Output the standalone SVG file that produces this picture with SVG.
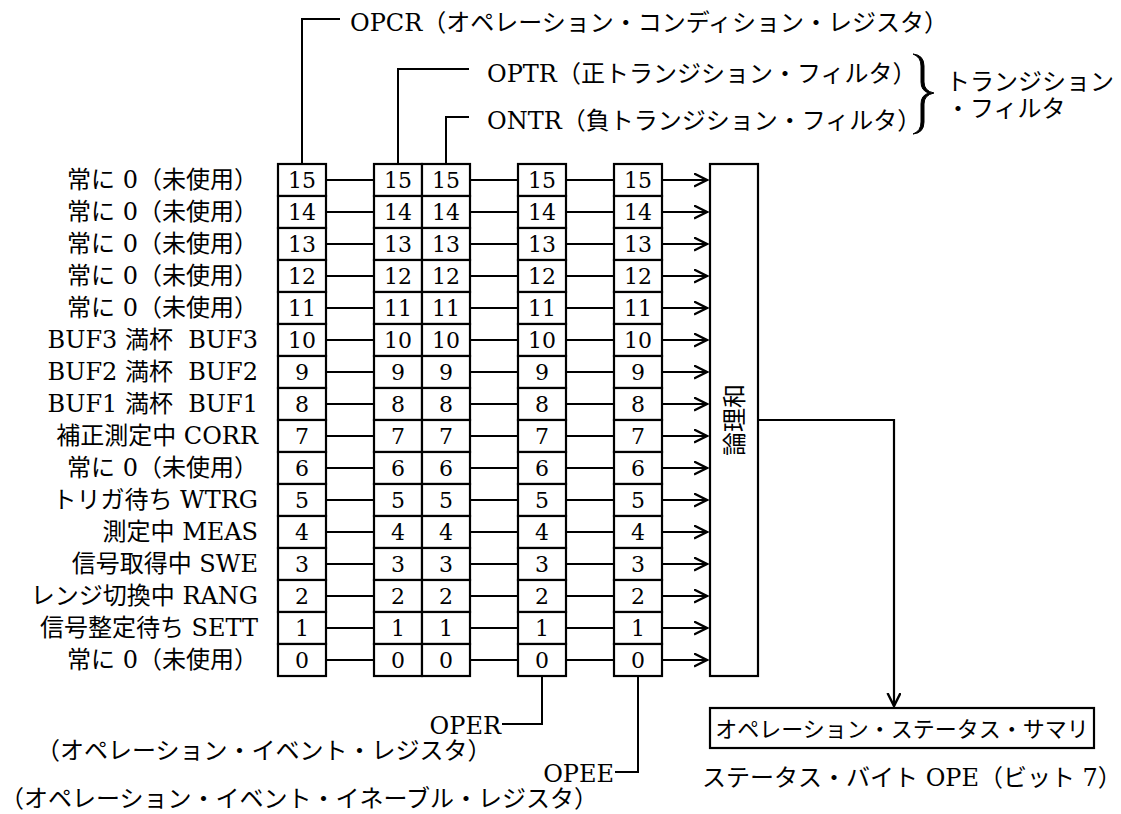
<svg xmlns="http://www.w3.org/2000/svg" width="1121" height="814" viewBox="0 0 1121 814">
<style>
.t{font-family:"DejaVu Serif","Noto Sans CJK JP",serif;font-size:24px;fill:#000}
.n{font-family:"DejaVu Serif",serif;font-size:22px;fill:#000;text-anchor:middle}
.s{font-family:"Noto Sans CJK JP",sans-serif;font-size:24px;fill:#000}
.e{text-anchor:end}
.m{text-anchor:middle}
.box{fill:#fff;stroke:#000;stroke-width:2.2}
.ln{fill:none;stroke:#000;stroke-width:2}
.ar{fill:none;stroke:#000;stroke-width:2.2;marker-end:url(#ah)}
</style>
<defs>
<marker id="ah" markerUnits="userSpaceOnUse" markerWidth="16" markerHeight="16" refX="13" refY="7" orient="auto">
<path d="M0,0.5 L13,7 L0,13.5" fill="none" stroke="#000" stroke-width="2.4"/>
</marker>
<g id="col">
<rect class="box" x="0" y="164" width="48" height="32"/><text class="n" x="24" y="188">15</text>
<rect class="box" x="0" y="196" width="48" height="32"/><text class="n" x="24" y="220">14</text>
<rect class="box" x="0" y="228" width="48" height="32"/><text class="n" x="24" y="252">13</text>
<rect class="box" x="0" y="260" width="48" height="32"/><text class="n" x="24" y="284">12</text>
<rect class="box" x="0" y="292" width="48" height="32"/><text class="n" x="24" y="316">11</text>
<rect class="box" x="0" y="324" width="48" height="32"/><text class="n" x="24" y="348">10</text>
<rect class="box" x="0" y="356" width="48" height="32"/><text class="n" x="24" y="380">9</text>
<rect class="box" x="0" y="388" width="48" height="32"/><text class="n" x="24" y="412">8</text>
<rect class="box" x="0" y="420" width="48" height="32"/><text class="n" x="24" y="444">7</text>
<rect class="box" x="0" y="452" width="48" height="32"/><text class="n" x="24" y="476">6</text>
<rect class="box" x="0" y="484" width="48" height="32"/><text class="n" x="24" y="508">5</text>
<rect class="box" x="0" y="516" width="48" height="32"/><text class="n" x="24" y="540">4</text>
<rect class="box" x="0" y="548" width="48" height="32"/><text class="n" x="24" y="572">3</text>
<rect class="box" x="0" y="580" width="48" height="32"/><text class="n" x="24" y="604">2</text>
<rect class="box" x="0" y="612" width="48" height="32"/><text class="n" x="24" y="636">1</text>
<rect class="box" x="0" y="644" width="48" height="32"/><text class="n" x="24" y="668">0</text>
</g>
</defs>

<g id="labels">
<text class="t e" x="258" y="188">常に 0（未使用）</text>
<text class="t e" x="258" y="220">常に 0（未使用）</text>
<text class="t e" x="258" y="252">常に 0（未使用）</text>
<text class="t e" x="258" y="284">常に 0（未使用）</text>
<text class="t e" x="258" y="316">常に 0（未使用）</text>
<text class="t e" x="258" y="348" xml:space="preserve">BUF3 満杯  BUF3</text>
<text class="t e" x="258" y="380" xml:space="preserve">BUF2 満杯  BUF2</text>
<text class="t e" x="258" y="412" xml:space="preserve">BUF1 満杯  BUF1</text>
<text class="t e" x="258" y="444">補正測定中 CORR</text>
<text class="t e" x="258" y="476">常に 0（未使用）</text>
<text class="t e" x="258" y="508">トリガ待ち WTRG</text>
<text class="t e" x="258" y="540">測定中 MEAS</text>
<text class="t e" x="258" y="572">信号取得中 SWE</text>
<text class="t e" x="258" y="604">レンジ切換中 RANG</text>
<text class="t e" x="258" y="636">信号整定待ち SETT</text>
<text class="t e" x="258" y="668">常に 0（未使用）</text>
</g>

<g id="opcr"><use href="#col" x="278"/></g>
<g id="optr"><use href="#col" x="374"/></g>
<g id="ontr"><use href="#col" x="422"/></g>
<g id="oper"><use href="#col" x="518"/></g>
<g id="opee"><use href="#col" x="614"/></g>

<g id="or">
<rect class="box" x="710" y="164" width="48" height="512"/>
<text class="s m" transform="translate(743,420) rotate(-90)" x="0" y="0">論理和</text>
</g>

<g id="summary">
<rect class="box" x="710" y="708" width="384" height="40"/>
<text class="t m" x="902" y="737" style="font-size:22px">オペレーション・ステータス・サマリ</text>
<text class="t" x="702" y="786">ステータス・バイト OPE（ビット 7）</text>
</g>

<g id="titles">
<text class="t" x="350" y="31">OPCR（オペレーション・コンディション・レジスタ）</text>
<text class="t" x="487" y="82">OPTR（正トランジション・フィルタ）</text>
<text class="t" x="487" y="129">ONTR（負トランジション・フィルタ）</text>
<path d="M913,54 Q924,55 924,66 L924,82 Q924,91 934,93 Q924,95 924,104 L924,122 Q924,133 913,134 Q921,131 921,122 L921,104 Q921,95 929,93 Q921,91 921,82 L921,66 Q921,57 913,54 Z" fill="#000" stroke="#000" stroke-width="1"/>
<text class="t" x="946" y="90">トランジション</text>
<text class="t" x="946" y="117">・フィルタ</text>
<text class="t e" x="501" y="734">OPER</text>
<text class="t" x="36" y="759">（オペレーション・イベント・レジスタ）</text>
<text class="t e" x="614" y="782">OPEE</text>
<text class="t" x="0" y="807">（オペレーション・イベント・イネーブル・レジスタ）</text>
</g>

<g id="connectors">
<path class="ln" d="M302,164 V19 H340"/>
<path class="ln" d="M398,164 V69 H469"/>
<path class="ln" d="M446,164 V117 H469"/>
<path class="ln" d="M542,676 V724 H502"/>
<path class="ln" d="M638,676 V772 H615"/>
<path class="ln" d="M326,180 H374 M470,180 H518 M566,180 H614
M326,212 H374 M470,212 H518 M566,212 H614
M326,244 H374 M470,244 H518 M566,244 H614
M326,276 H374 M470,276 H518 M566,276 H614
M326,308 H374 M470,308 H518 M566,308 H614
M326,340 H374 M470,340 H518 M566,340 H614
M326,372 H374 M470,372 H518 M566,372 H614
M326,404 H374 M470,404 H518 M566,404 H614
M326,436 H374 M470,436 H518 M566,436 H614
M326,468 H374 M470,468 H518 M566,468 H614
M326,500 H374 M470,500 H518 M566,500 H614
M326,532 H374 M470,532 H518 M566,532 H614
M326,564 H374 M470,564 H518 M566,564 H614
M326,596 H374 M470,596 H518 M566,596 H614
M326,628 H374 M470,628 H518 M566,628 H614
M326,660 H374 M470,660 H518 M566,660 H614"/>
<path class="ar" d="M662,180 H707"/>
<path class="ar" d="M662,212 H707"/>
<path class="ar" d="M662,244 H707"/>
<path class="ar" d="M662,276 H707"/>
<path class="ar" d="M662,308 H707"/>
<path class="ar" d="M662,340 H707"/>
<path class="ar" d="M662,372 H707"/>
<path class="ar" d="M662,404 H707"/>
<path class="ar" d="M662,436 H707"/>
<path class="ar" d="M662,468 H707"/>
<path class="ar" d="M662,500 H707"/>
<path class="ar" d="M662,532 H707"/>
<path class="ar" d="M662,564 H707"/>
<path class="ar" d="M662,596 H707"/>
<path class="ar" d="M662,628 H707"/>
<path class="ar" d="M662,660 H707"/>
<path class="ar" d="M758,420 H894 V706"/>
</g>
</svg>
